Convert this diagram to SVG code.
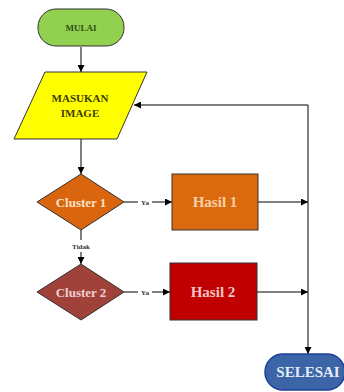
<svg xmlns="http://www.w3.org/2000/svg" width="344" height="392" viewBox="0 0 344 392">
<style>
.ln{stroke:#000;stroke-width:1;fill:none}
.lbl{font-family:"Liberation Serif",serif;font-weight:bold;font-size:7px;fill:#333;text-anchor:middle}
.t{font-family:"Liberation Serif",serif;font-weight:bold;text-anchor:middle;dominant-baseline:central}
</style>
<defs>
<marker id="ah" viewBox="0 0 10 10" refX="10" refY="5" markerWidth="7" markerHeight="7" orient="auto" markerUnits="userSpaceOnUse">
<path d="M0,0 L10,5 L0,10 Z" fill="#000"/>
</marker>
</defs>
<g id="connectors">
<line class="ln" x1="81" y1="47" x2="81" y2="72" marker-end="url(#ah)"/>
<line class="ln" x1="81" y1="139" x2="81" y2="174" marker-end="url(#ah)"/>
<line class="ln" x1="124" y1="202" x2="138" y2="202"/>
<line class="ln" x1="152" y1="202" x2="172" y2="202" marker-end="url(#ah)"/>
<line class="ln" x1="258" y1="202" x2="308" y2="202" marker-end="url(#ah)"/>
<line class="ln" x1="81" y1="230" x2="81" y2="240"/>
<line class="ln" x1="81" y1="252" x2="81" y2="264" marker-end="url(#ah)"/>
<line class="ln" x1="124" y1="292" x2="138" y2="292"/>
<line class="ln" x1="152" y1="292" x2="170" y2="292" marker-end="url(#ah)"/>
<line class="ln" x1="257" y1="292" x2="308" y2="292" marker-end="url(#ah)"/>
<polyline class="ln" points="308,105 308,354" marker-end="url(#ah)"/>
<line class="ln" x1="308" y1="105" x2="134" y2="105" marker-end="url(#ah)"/>
<text class="lbl" x="145" y="204.5">Ya</text>
<text class="lbl" x="81" y="248.5">Tidak</text>
<text class="lbl" x="145" y="294.5">Ya</text>
</g>
<g id="mulai">
<rect x="38" y="9" width="86" height="37" rx="18" fill="#92d050" stroke="#333" stroke-width="1"/>
<text class="t" x="81" y="27.5" font-size="9" fill="#2f4f14">MULAI</text>
</g>
<g id="masukan">
<polygon points="45,72 147,72 117,139 14,139" fill="#ffff00" stroke="#333" stroke-width="1"/>
<text class="t" x="80" y="98" font-size="11" fill="#3d3d00">MASUKAN</text>
<text class="t" x="80" y="113" font-size="11" fill="#3d3d00">IMAGE</text>
</g>
<g id="cluster1">
<polygon points="81,174 124,202 81,230 37,202" fill="#d9650e" stroke="#333" stroke-width="1"/>
<text class="t" x="81" y="202" font-size="13" fill="#fbe0c8">Cluster 1</text>
</g>
<g id="hasil1">
<rect x="172" y="174" width="86" height="56" fill="#db6a0e" stroke="#333" stroke-width="1"/>
<text class="t" x="215" y="202" font-size="15" fill="#f8d0a8">Hasil 1</text>
</g>
<g id="cluster2">
<polygon points="81,264 124,292 81,320 37,292" fill="#a0413a" stroke="#333" stroke-width="1"/>
<text class="t" x="81" y="292" font-size="13" fill="#f0d0d0">Cluster 2</text>
</g>
<g id="hasil2">
<rect x="170" y="263" width="87" height="57" fill="#c00000" stroke="#333" stroke-width="1"/>
<text class="t" x="213" y="292" font-size="15" fill="#f4c4c4">Hasil 2</text>
</g>
<g id="selesai">
<rect x="265" y="354" width="80" height="36" rx="18" fill="#3c65a8" stroke="#1f3f99" stroke-width="1.5"/>
<text class="t" x="308" y="372" font-size="15" fill="#e4ecf6">SELESAI</text>
</g>
</svg>
